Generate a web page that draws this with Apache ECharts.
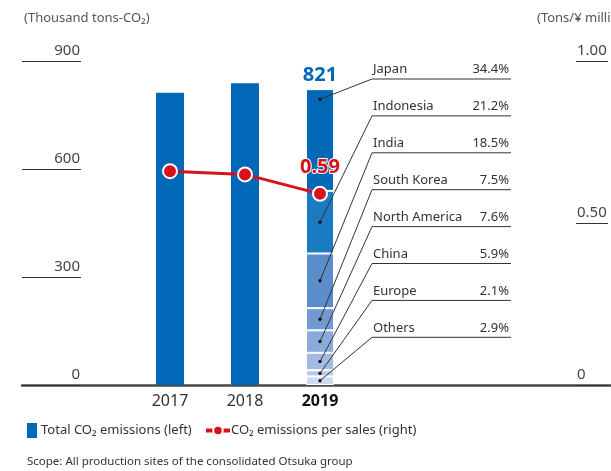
<!DOCTYPE html>
<html>
<head>
<meta charset="utf-8">
<script src="https://cdn.jsdelivr.net/npm/echarts@6/dist/echarts.min.js"></script>
<style>
  html, body { margin: 0; padding: 0; background: #fff; }
  #chart { width: 611px; height: 471px; }
</style>
</head>
<body>
<div id="chart"></div>
<script>
// data
var years = ['2017', '2018', '2019'];
var totalEmissions = [812, 838, 821];          // thousand tons-CO2
var perSales = [0.66, 0.65, 0.59];             // tons / yen million
var regionNames = ['Japan', 'Indonesia', 'India', 'South Korea', 'North America', 'China', 'Europe', 'Others'];
var regionShares = [34.4, 21.2, 18.5, 7.5, 7.6, 5.9, 2.1, 2.9]; // % of 2019 total
var regionColors = ['#0068b7', '#1a7bc2', '#5b8dcb', '#7299d2', '#8aaada', '#a3bbe3', '#b6c9ea', '#cfdbf0'];
var leftTicks = [0, 300, 600, 900];
var rightTicks = [0, 0.5, 1.0];

var FONT = 'Noto Sans';
var blue = '#0068b7';
var red = '#d7121b';

var chart = echarts.init(document.getElementById('chart'));

var series = [];
// 2017 and 2018 totals
series.push({
  name: 'Total CO₂ emissions (left)',
  type: 'bar', stack: 'co2', xAxisIndex: 1, yAxisIndex: 2,
  barWidth: 28,
  itemStyle: { color: blue },
  data: [totalEmissions[0], totalEmissions[1], '-']
});
// 2019 breakdown, bottom (Others) to top (Japan)
var last = years.length - 1;
for (var i = regionNames.length - 1; i >= 0; i--) {
  var v = totalEmissions[last] * regionShares[i] / 100;
  var s = {
    name: regionNames[i],
    type: 'bar', stack: 'co2', xAxisIndex: 1, yAxisIndex: 2,
    barWidth: 28,
    itemStyle: { color: regionColors[i], borderColor: '#fff', borderWidth: 1 },
    data: ['-', '-', v]
  };
  if (i === 0) {
    s.label = {
      show: true, position: 'top', distance: 4,
      formatter: function () { return String(totalEmissions[last]); },
      color: blue, fontSize: 20, fontWeight: 'bold', fontFamily: FONT
    };
  }
  series.push(s);
}
var lineData = perSales.map(function (v, k) {
  if (k === last) {
    return {
      value: v,
      label: {
        show: true, position: 'top', distance: 9,
        formatter: function (p) { return p.value.toFixed(2); },
        color: red, fontSize: 20, fontWeight: 'bold', fontFamily: FONT,
        textBorderColor: '#fff', textBorderWidth: 2
      }
    };
  }
  return v;
});
series.push({
  name: 'CO₂ emissions per sales (right)',
  type: 'line', xAxisIndex: 1, yAxisIndex: 3, z: 5,
  symbol: 'circle', symbolSize: 14,
  lineStyle: { color: red, width: 3 },
  itemStyle: { color: red, borderColor: '#fff', borderWidth: 2 },
  data: lineData
});

var tickStyle = { color: '#333', width: 1 };

chart.setOption({
  animation: false,
  textStyle: { fontFamily: FONT },
  grid: [
    { left: 22, right: 0, top: 61, bottom: 86 },
    { left: 132.5, width: 225, top: 61, bottom: 86 }
  ],
  xAxis: [
    { type: 'category', gridIndex: 0, data: [''], axisTick: { show: false }, axisLabel: { show: false },
      axisLine: { lineStyle: { color: '#4a4a4a', width: 2.5 } } },
    { type: 'category', gridIndex: 1, data: years, axisTick: { show: false }, axisLine: { show: false },
      axisLabel: {
        interval: 0, margin: 8, fontSize: 16, color: '#333', fontFamily: FONT,
        formatter: function (v) { return v === years[last] ? '{b|' + v + '}' : v; },
        rich: { b: { fontSize: 16, fontWeight: 'bold', color: '#111', fontFamily: FONT } }
      } }
  ],
  yAxis: [
    { type: 'value', gridIndex: 0, position: 'left', min: leftTicks[0], max: leftTicks[leftTicks.length - 1], interval: 300,
      splitLine: { show: false }, axisLine: { show: false },
      axisTick: { show: true, inside: true, length: 59, lineStyle: tickStyle },
      axisLabel: { inside: true, margin: 58, align: 'right', verticalAlign: 'bottom', padding: [0, 0, 3, 0],
        fontSize: 15, color: '#444', fontFamily: FONT } },
    { type: 'value', gridIndex: 0, position: 'right', offset: -3, min: rightTicks[0], max: rightTicks[rightTicks.length - 1], interval: 0.5,
      splitLine: { show: false }, axisLine: { show: false },
      axisTick: { show: true, inside: true, length: 32, lineStyle: tickStyle },
      axisLabel: { inside: true, margin: 31, align: 'left', verticalAlign: 'bottom', padding: [0, 0, 3, 0],
        fontSize: 15, color: '#444', fontFamily: FONT,
        formatter: function (v) { return v === 0 ? '0' : v.toFixed(2); } } },
    { type: 'value', gridIndex: 1, min: 0, max: 900, show: false },
    { type: 'value', gridIndex: 1, min: 0, max: 1, show: false }
  ],
  legend: [
    {
      left: 27, top: 423, padding: 0, itemWidth: 10, itemHeight: 15, itemGap: 6,
      data: [{ name: 'Total CO₂ emissions (left)', icon: 'rect' }],
      textStyle: { fontSize: 13, color: '#333', fontFamily: FONT, padding: [0, 0, 0, -1] }
    },
    {
      left: 204, top: 424, padding: 0, itemWidth: 24, itemHeight: 12,
      data: [{ name: 'CO₂ emissions per sales (right)' }],
      lineStyle: { width: 4 },
      textStyle: { fontSize: 13, color: '#333', fontFamily: FONT, padding: [0, 0, 0, -4] }
    }
  ],
  series: series
});

// axis titles, footnote, leader lines and breakdown labels
var graphics = [
  { type: 'text', left: 24, top: 12, style: { text: '(Thousand tons-CO₂)', fill: '#555', font: '13px "Noto Sans"' } },
  { type: 'text', left: 537, top: 12, style: { text: '(Tons/¥ million)', fill: '#555', font: '13px "Noto Sans"' } },
  { type: 'text', left: 27, top: 456, style: { text: 'Scope: All production sites of the consolidated Otsuka group', fill: '#333', font: '11.5px "Noto Sans"' } }
];
var labelLeft = 372, labelRight = 511, firstLine = 79, lineStep = 36.9;
var base = 0;
var bottoms = [];
for (var j = regionNames.length - 1; j >= 0; j--) {
  bottoms[j] = base;
  base += totalEmissions[last] * regionShares[j] / 100;
}
for (var r = 0; r < regionNames.length; r++) {
  var segV = totalEmissions[last] * regionShares[r] / 100;
  var frac = r === 0 ? 0.9 : 0.5;
  var p = chart.convertToPixel({ xAxisIndex: 1, yAxisIndex: 2 }, [years[last], bottoms[r] + segV * frac]);
  var ly = firstLine + lineStep * r;
  graphics.push({ type: 'polyline', z: 20, silent: true,
    shape: { points: [[p[0], p[1]], [labelLeft, ly], [labelRight, ly]] },
    style: { stroke: '#333', lineWidth: 1, fill: null } });
  graphics.push({ type: 'circle', z: 21, silent: true, shape: { cx: p[0], cy: p[1], r: 1.7 }, style: { fill: '#111' } });
  graphics.push({ type: 'text', z: 21, x: labelLeft + 1, y: ly - 3,
    style: { text: regionNames[r], fill: '#333', font: '13px "Noto Sans"', verticalAlign: 'bottom' } });
  graphics.push({ type: 'text', z: 21, x: labelRight - 2, y: ly - 3,
    style: { text: regionShares[r].toFixed(1) + '%', fill: '#333', font: '13px "Noto Sans"', align: 'right', verticalAlign: 'bottom' } });
}
chart.setOption({ graphic: graphics });
</script>
</body>
</html>
